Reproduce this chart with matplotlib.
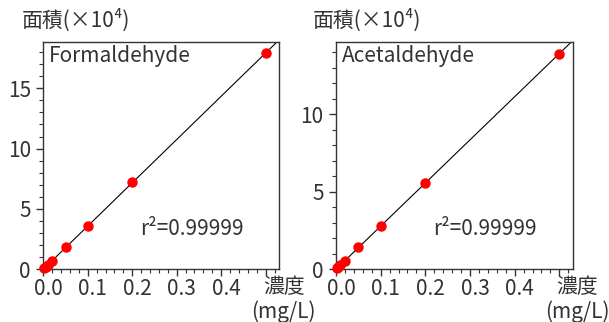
import matplotlib
matplotlib.use("Agg")
import matplotlib.pyplot as plt
import matplotlib.transforms as mtransforms
import numpy as np
from matplotlib.ticker import MultipleLocator

plt.rcParams["font.family"] = ["Noto Sans CJK JP", "DejaVu Sans"]

conc = [0.002, 0.005, 0.01, 0.02, 0.05, 0.1, 0.2, 0.5]
formaldehyde = [0.07, 0.18, 0.36, 0.72, 1.83, 3.62, 7.2, 17.9]
acetaldehyde = [0.06, 0.14, 0.28, 0.56, 1.42, 2.80, 5.58, 13.9]
names = ["Formaldehyde", "Acetaldehyde"]
ylims = [18.86, 14.68]
r2_text = "r²=0.99999"
xtick_labels = ["0.0", "0.1", "0.2", "0.3", "0.4", ""]

TXT = "#333333"

fig = plt.figure(figsize=(6.09, 3.22), dpi=100)
axes = [fig.add_axes([0.0711, 0.1637, 0.387, 0.7068]),
        fig.add_axes([0.5517, 0.1637, 0.3887, 0.7068])]

# x tick labels sit a little right of their ticks in the original
shift = mtransforms.ScaledTranslation(5 / 100, 0, fig.dpi_scale_trans)

for ax, name, ys, ytop in zip(axes, names, [formaldehyde, acetaldehyde], ylims):
    x = np.array(conc)
    y = np.array(ys)
    slope = np.sum(x * y) / np.sum(x * x)
    xl = np.array([0, 0.53])
    ax.plot(xl, slope * xl, color="black", lw=0.8, zorder=2)
    ax.plot(x, y, "o", color="#ff0000", ms=6.5, mec="#ff0000", zorder=3, clip_on=False)
    ax.set_xlim(0, 0.53)
    ax.set_ylim(0, ytop)
    ax.xaxis.set_minor_locator(MultipleLocator(0.02))
    ax.set_xticks(np.arange(0, 0.51, 0.1))
    ax.set_xticklabels(xtick_labels)
    ax.yaxis.set_major_locator(MultipleLocator(5))
    ax.yaxis.set_minor_locator(MultipleLocator(1))
    ax.tick_params(which="major", length=5, width=1, color=TXT, labelsize=15,
                   labelcolor=TXT)
    ax.tick_params(axis="x", pad=1)
    ax.tick_params(axis="y", pad=4)
    ax.tick_params(which="minor", length=3, width=0.8, color=TXT)
    for lab in ax.get_xticklabels():
        lab.set_transform(lab.get_transform() + shift)
    for sp in ax.spines.values():
        sp.set_color(TXT)
        sp.set_linewidth(1)
    ax.text(0.025, 0.935, name, transform=ax.transAxes, fontsize=15,
            color=TXT, ha="left", va="center")
    ax.text(0.41, 0.175, r2_text, transform=ax.transAxes, fontsize=15,
            color=TXT, ha="left", va="center")
    ax.text(1.02, -0.03, "濃度\n(mg/L)", transform=ax.transAxes, fontsize=15,
            color=TXT, ha="center", va="top", linespacing=1.1)

fig.text(22 / 609, 1 - 20 / 322, "面積(×10⁴)", fontsize=15, color=TXT,
         ha="left", va="center")
fig.text(313 / 609, 1 - 20 / 322, "面積(×10⁴)", fontsize=15, color=TXT,
         ha="left", va="center")

fig.savefig("out.png", dpi=100)
